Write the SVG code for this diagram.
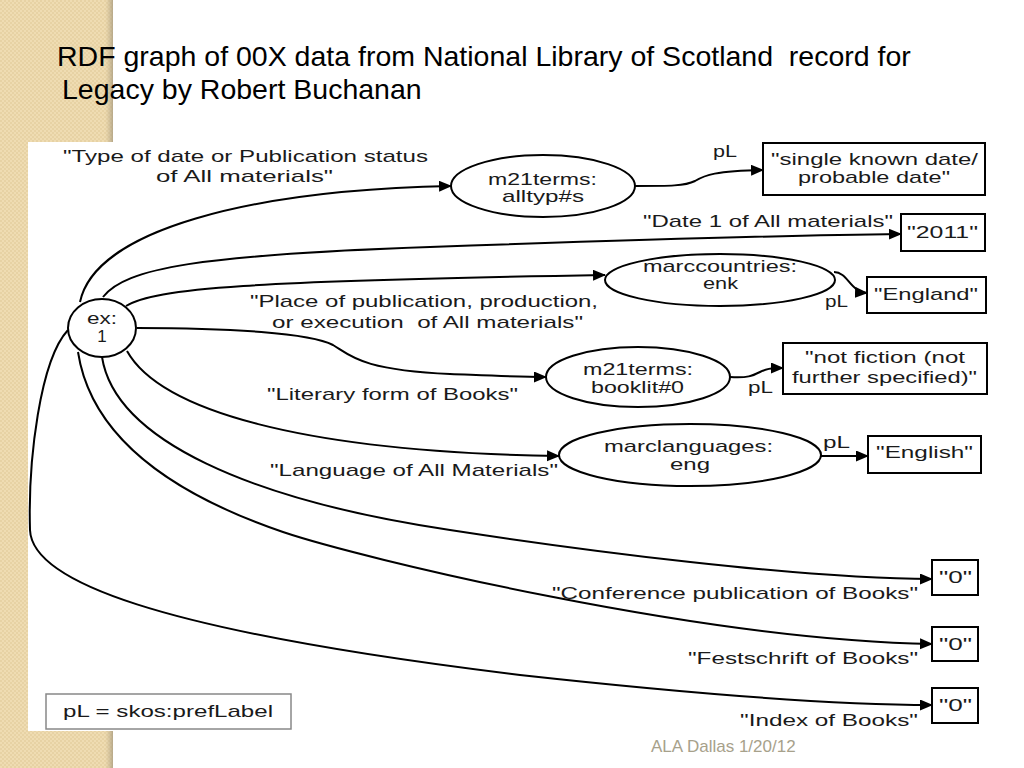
<svg xmlns="http://www.w3.org/2000/svg" width="1024" height="768" viewBox="0 0 1024 768">
<style>
.t{font-family:"Liberation Sans",Arial,sans-serif;font-size:17px;fill:#1a1a1a}
.title{font-family:"Liberation Sans",Arial,sans-serif;font-size:28.5px;fill:#000}
.foot{font-family:"Liberation Sans",Arial,sans-serif;font-size:17px;fill:#A7A18B}
.node{fill:#fff;stroke:#000;stroke-width:2}
.edge{fill:none;stroke:#000;stroke-width:2}
</style>
<defs>
<pattern id="chk" width="4" height="4" patternUnits="userSpaceOnUse">
<rect width="4" height="4" fill="#EFDCB2"/>
<rect width="2" height="2" fill="#E7D2A4"/>
<rect x="2" y="2" width="2" height="2" fill="#E7D2A4"/>
</pattern>
<linearGradient id="shade" x1="0" x2="1" y1="0" y2="0">
<stop offset="0" stop-color="#C9B994" stop-opacity="0"/>
<stop offset="1" stop-color="#A99C80" stop-opacity="0.8"/>
</linearGradient>
<marker id="arr" markerUnits="userSpaceOnUse" markerWidth="14" markerHeight="12" refX="12" refY="5.5" orient="auto">
<path d="M0,0 L13,5.5 L0,11 z" fill="#000"/>
</marker>
</defs>
<rect width="1024" height="768" fill="#fff"/>
<rect x="0" y="0" width="113" height="768" fill="url(#chk)"/>
<rect x="105" y="0" width="8" height="768" fill="url(#shade)"/>
<rect x="28" y="142" width="996" height="589" fill="#fff"/>

<g id="title">
<text class="title" x="57" y="66" xml:space="preserve">RDF graph of 00X data from National Library of Scotland  record for</text>
<text class="title" x="62" y="99">Legacy by Robert Buchanan</text>
</g>

<g id="connectors">
<path class="edge" d="M80,302 C95,230 250,190 451,186" marker-end="url(#arr)"/>
<path class="edge" d="M103,297 C125,268 200,255 430,247 C600,241 800,235 901,234" marker-end="url(#arr)"/>
<path class="edge" d="M126,306 C155,288 250,281 605,275" marker-end="url(#arr)"/>
<path class="edge" d="M137,328 C230,328 310,333 333,345 C350,355 360,370 450,374 C500,376 520,377 546,377" marker-end="url(#arr)"/>
<path class="edge" d="M127,351 C160,410 300,452 559,456" marker-end="url(#arr)"/>
<path class="edge" d="M102,357 C115,440 250,500 450,530 C580,550 800,579 932,579" marker-end="url(#arr)"/>
<path class="edge" d="M78,352 C90,430 160,490 283,532 C360,558 700,640 932,644" marker-end="url(#arr)"/>
<path class="edge" d="M68,330 C40,360 28,460 30,530 C32,580 150,630 520,675 C720,697 850,705 932,705" marker-end="url(#arr)"/>
<path class="edge" d="M635,186 C670,186 685,186 695,181 C705,175 715,171 763,170" marker-end="url(#arr)"/>
<path class="edge" d="M834,272 C848,272 850,292 867,293" marker-end="url(#arr)"/>
<path class="edge" d="M730,377 C748,378 752,376 760,372 C766,369 770,368 783,368" marker-end="url(#arr)"/>
<path class="edge" d="M820,456 L868,456" marker-end="url(#arr)"/>
</g>

<g id="edge-labels">
<text class="t" x="63" y="162" textLength="365" lengthAdjust="spacingAndGlyphs">"Type of date or Publication status</text>
<text class="t" x="156" y="182" textLength="177" lengthAdjust="spacingAndGlyphs">of All materials"</text>
<text class="t" x="643" y="227" textLength="250" lengthAdjust="spacingAndGlyphs">"Date 1 of All materials"</text>
<text class="t" x="250" y="307" textLength="348" lengthAdjust="spacingAndGlyphs">"Place of publication, production,</text>
<text class="t" x="272" y="328" textLength="311" lengthAdjust="spacingAndGlyphs" xml:space="preserve">or execution  of All materials"</text>
<text class="t" x="267" y="400" textLength="251" lengthAdjust="spacingAndGlyphs">"Literary form of Books"</text>
<text class="t" x="270" y="476" textLength="288" lengthAdjust="spacingAndGlyphs">"Language of All Materials"</text>
<text class="t" x="552" y="599" textLength="366" lengthAdjust="spacingAndGlyphs">"Conference publication of Books"</text>
<text class="t" x="688" y="664" textLength="230" lengthAdjust="spacingAndGlyphs">"Festschrift of Books"</text>
<text class="t" x="740" y="726" textLength="178" lengthAdjust="spacingAndGlyphs">"Index of Books"</text>
<text class="t" x="713" y="157" textLength="24" lengthAdjust="spacingAndGlyphs">pL</text>
<text class="t" x="825" y="307" textLength="23" lengthAdjust="spacingAndGlyphs">pL</text>
<text class="t" x="748" y="393" textLength="25" lengthAdjust="spacingAndGlyphs">pL</text>
<text class="t" x="823" y="448" textLength="27" lengthAdjust="spacingAndGlyphs">pL</text>
</g>

<g id="ex1">
<ellipse class="node" cx="102" cy="328" rx="34" ry="29"/>
<text class="t" x="87" y="324" textLength="30" lengthAdjust="spacingAndGlyphs">ex:</text>
<text class="t" x="102" y="342" text-anchor="middle">1</text>
</g>
<g id="alltyp">
<ellipse class="node" cx="543" cy="186" rx="92" ry="31"/>
<text class="t" x="488" y="185" textLength="109" lengthAdjust="spacingAndGlyphs">m21terms:</text>
<text class="t" x="502" y="202" textLength="82" lengthAdjust="spacingAndGlyphs">alltyp#s</text>
</g>
<g id="single-known-date">
<rect class="node" x="763" y="143" width="222" height="52"/>
<text class="t" x="771" y="165" textLength="207" lengthAdjust="spacingAndGlyphs">"single known date/</text>
<text class="t" x="798" y="183" textLength="152" lengthAdjust="spacingAndGlyphs">probable date"</text>
</g>
<g id="date2011">
<rect class="node" x="901" y="214" width="84" height="37"/>
<text class="t" x="907" y="238" textLength="71" lengthAdjust="spacingAndGlyphs">"2011"</text>
</g>
<g id="marccountries">
<ellipse class="node" cx="720" cy="280" rx="115" ry="26"/>
<text class="t" x="643" y="272" textLength="154" lengthAdjust="spacingAndGlyphs">marccountries:</text>
<text class="t" x="703" y="289" textLength="35" lengthAdjust="spacingAndGlyphs">enk</text>
</g>
<g id="england">
<rect class="node" x="867" y="277" width="119" height="36"/>
<text class="t" x="874" y="300" textLength="104" lengthAdjust="spacingAndGlyphs">"England"</text>
</g>
<g id="booklit">
<ellipse class="node" cx="638" cy="377" rx="92" ry="30"/>
<text class="t" x="583" y="375" textLength="110" lengthAdjust="spacingAndGlyphs">m21terms:</text>
<text class="t" x="591" y="393" textLength="93" lengthAdjust="spacingAndGlyphs">booklit#0</text>
</g>
<g id="not-fiction">
<rect class="node" x="783" y="343" width="204" height="51"/>
<text class="t" x="805" y="363" textLength="160" lengthAdjust="spacingAndGlyphs">"not fiction (not</text>
<text class="t" x="792" y="383" textLength="185" lengthAdjust="spacingAndGlyphs">further specified)"</text>
</g>
<g id="marclanguages">
<ellipse class="node" cx="690" cy="455" rx="131" ry="31"/>
<text class="t" x="604" y="452" textLength="169" lengthAdjust="spacingAndGlyphs">marclanguages:</text>
<text class="t" x="670" y="470" textLength="40" lengthAdjust="spacingAndGlyphs">eng</text>
</g>
<g id="english">
<rect class="node" x="868" y="436" width="113" height="37"/>
<text class="t" x="876" y="458" textLength="97" lengthAdjust="spacingAndGlyphs">"English"</text>
</g>
<g id="zero-conference">
<rect class="node" x="932" y="560" width="46" height="35"/>
<text class="t" x="939" y="583" textLength="33" lengthAdjust="spacingAndGlyphs">"0"</text>
</g>
<g id="zero-festschrift">
<rect class="node" x="932" y="627" width="46" height="34"/>
<text class="t" x="939" y="650" textLength="33" lengthAdjust="spacingAndGlyphs">"0"</text>
</g>
<g id="zero-index">
<rect class="node" x="932" y="688" width="46" height="35"/>
<text class="t" x="939" y="711" textLength="33" lengthAdjust="spacingAndGlyphs">"0"</text>
</g>

<g id="legend">
<rect x="46" y="694" width="245" height="35" fill="#fff" stroke="#888" stroke-width="1.5"/>
<text class="t" x="63" y="717" textLength="210" lengthAdjust="spacingAndGlyphs">pL = skos:prefLabel</text>
</g>

<text class="foot" x="651" y="752">ALA Dallas 1/20/12</text>
</svg>
